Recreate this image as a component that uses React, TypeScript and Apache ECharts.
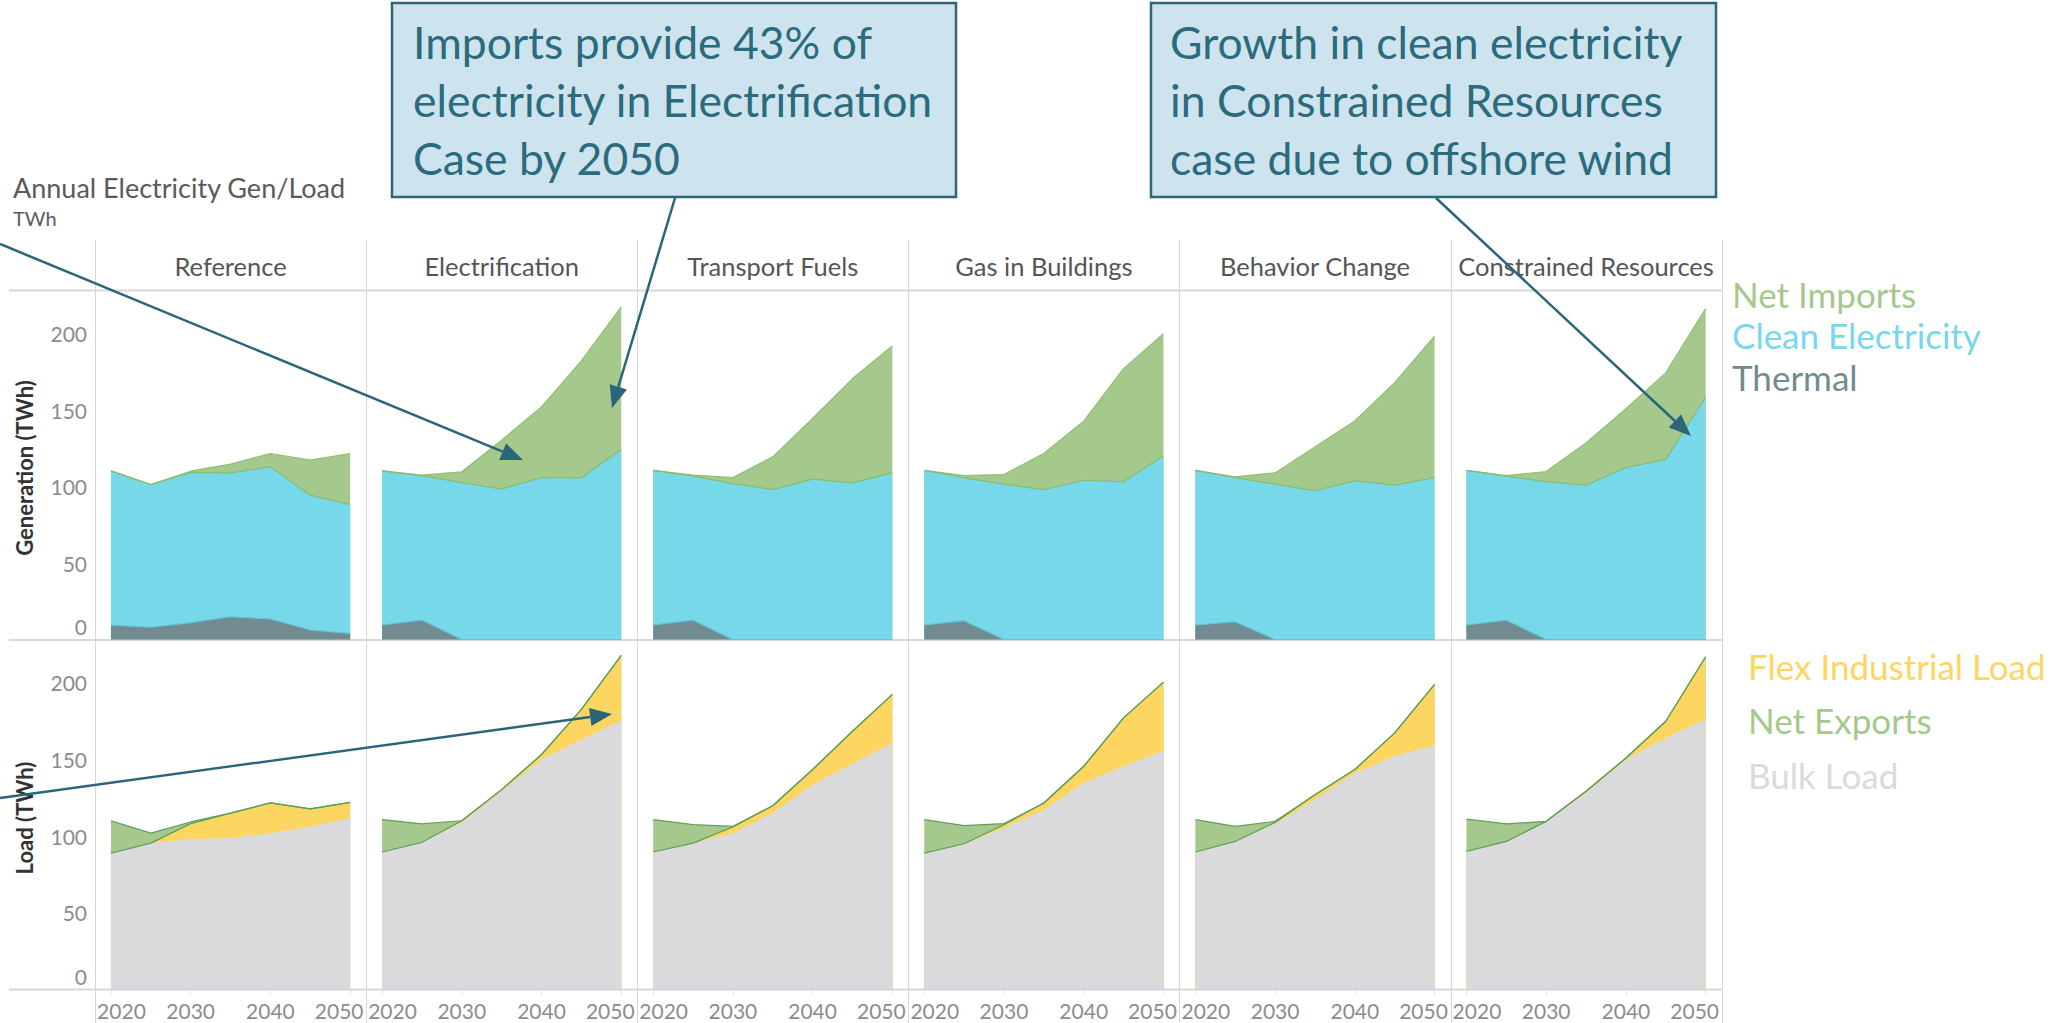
import React, { useEffect, useRef } from 'react';
import * as echarts from 'echarts';

// ---------- data ----------
const YEARS = [2020, 2025, 2030, 2035, 2040, 2045, 2050];
const X_TICKS = [2020, 2030, 2040, 2050];
const Y_TICKS = [0, 50, 100, 150, 200];
const CASES = ['Reference', 'Electrification', 'Transport Fuels', 'Gas in Buildings', 'Behavior Change', 'Constrained Resources'];

// Generation (TWh), one row per case, one value per year
const thermal = [
  [9.4, 8.0, 11.0, 14.9, 13.4, 6.2, 4.0],
  [9.5, 12.7, 0, 0, 0, 0, 0],
  [9.5, 12.7, 0, 0, 0, 0, 0],
  [9.5, 12.3, 0, 0, 0, 0, 0],
  [9.5, 11.6, 0, 0, 0, 0, 0],
  [9.5, 12.7, 0, 0, 0, 0, 0],
];
const cleanElectricity = [
  [100.9, 93.4, 98.3, 94.1, 99.6, 88.2, 84.3],
  [100.8, 94.3, 102.7, 98.4, 106.0, 105.8, 124.5],
  [101.1, 94.2, 102.0, 98.1, 104.9, 102.5, 109.0],
  [101.1, 93.5, 101.6, 98.1, 104.2, 103.2, 120.2],
  [101.1, 94.2, 101.7, 97.3, 103.8, 101.0, 106.0],
  [101.1, 94.2, 103.2, 101.0, 112.5, 117.8, 158.7],
];
const netImports = [
  [0, 0, 0.8, 5.7, 8.7, 22.9, 33.4],
  [0, 0.5, 7.0, 32.0, 46.2, 76.5, 93.1],
  [0, 0.6, 4.0, 21.4, 39.7, 68.2, 83.0],
  [0, 1.5, 6.3, 23.6, 38.6, 74.0, 79.9],
  [0, 0.6, 7.3, 28.7, 39.2, 67.0, 92.4],
  [0, 0.4, 6.7, 27.6, 38.5, 56.6, 57.8],
];
// Load (TWh)
const bulkLoad = [
  [89.0, 95.5, 98.1, 98.8, 102.0, 106.4, 111.9],
  [89.7, 96.0, 109.0, 129.3, 150.0, 163.0, 175.5],
  [89.7, 95.5, 102.0, 115.1, 133.6, 147.3, 160.9],
  [89.0, 95.1, 105.3, 117.3, 134.7, 145.6, 155.9],
  [89.7, 96.6, 108.2, 123.9, 141.3, 152.3, 159.2],
  [90.1, 96.6, 109.7, 128.2, 150.0, 164.2, 176.3],
];
const flexIndustrialLoad = [
  [0, 0, 10.1, 16.3, 19.7, 11.4, 10.2],
  [0, 0, 1.1, 1.1, 3.3, 19.7, 42.5],
  [0, 0, 4.0, 4.8, 9.9, 21.2, 31.6],
  [0, 0, 2.2, 4.4, 10.9, 31.6, 44.6],
  [0, 0, 0.8, 3.1, 2.2, 15.1, 39.8],
  [0, 0, 0, 1.1, 1.0, 10.8, 40.8],
];
const netExports = [
  [21.1, 6.5, 1.1, 0, 0, 0, 0],
  [21.1, 12.0, 0, 0, 0, 0, 0],
  [21.1, 12.0, 0.4, 0, 0, 0, 0],
  [21.8, 11.8, 0.7, 0, 0, 0, 0],
  [21.1, 9.8, 0.7, 0, 0, 0, 0],
  [21.0, 11.4, 0, 0, 0, 0, 0],
];

const TITLE = 'Annual Electricity Gen/Load';
const SUBTITLE = 'TWh';
const GEN_AXIS_NAME = 'Generation (TWh)';
const LOAD_AXIS_NAME = 'Load (TWh)';
const NOTE_1 = ['Imports provide 43% of', 'electricity in Electrification', 'Case by 2050'];
const NOTE_2 = ['Growth in clean electricity', 'in Constrained Resources', 'case due to offshore wind'];

// ---------- styles / layout ----------
const FONT = 'Lato, sans-serif';
const C_THERMAL = '#718b91';
const C_CLEAN = '#77d8ea';
const C_GREEN = '#a5c98c';
const C_BULK = '#dadadc';
const C_FLEX = '#fdd662';
const C_ARROW = '#2a657a';
const C_GRID = '#d8d8d8';
const C_TICK = '#8c8c8c';

const W = 2066;
const H = 1023;
const PANEL_LEFT = 95;
const PANEL_W = 271.1;
const GEN_TOP = 291;
const GEN_H = 348.5;
const LOAD_TOP = 640;
const LOAD_H = 349.5;
const X_MIN = 2018;
const X_MAX = 2052;
const Y_MAX = 228;

// running totals of stacked layers (bottom layer first)
function cumulative(layers: number[][]): number[][] {
  const out: number[][] = [];
  layers.forEach((layer, li) => {
    out.push(layer.map((v, k) => v + (li > 0 ? out[li - 1][k] : 0)));
  });
  return out;
}

function arrow(x1: number, y1: number, x2: number, y2: number) {
  const dx = x2 - x1;
  const dy = y2 - y1;
  const len = Math.hypot(dx, dy);
  const ux = dx / len;
  const uy = dy / len;
  const L = 22;
  const hw = 9;
  const bx = x2 - ux * L;
  const by = y2 - uy * L;
  return [
    { type: 'line', z: 100, shape: { x1, y1, x2: bx, y2: by }, style: { stroke: C_ARROW, lineWidth: 2.5 } },
    {
      type: 'polygon', z: 100,
      shape: { points: [[x2, y2], [bx - uy * hw, by + ux * hw], [bx + uy * hw, by - ux * hw]] },
      style: { fill: C_ARROW },
    },
  ];
}

function txt(x: number, y: number, text: string, size: number, fill: string, extra: any = {}) {
  return {
    type: 'text', z: 10, x, y,
    style: { text, fill, fontSize: size, fontFamily: FONT, verticalAlign: 'middle', ...extra },
  };
}

function buildOption() {
  const grids: any[] = [];
  const xAxes: any[] = [];
  const yAxes: any[] = [];
  const series: any[] = [];

  const tickBase = { color: C_TICK, fontSize: 21, fontFamily: FONT };

  for (let row = 0; row < 2; row++) {
    for (let i = 0; i < CASES.length; i++) {
      const idx = row * CASES.length + i;
      grids.push({
        left: PANEL_LEFT + i * PANEL_W,
        width: PANEL_W,
        top: row === 0 ? GEN_TOP : LOAD_TOP,
        height: row === 0 ? GEN_H : LOAD_H,
        containLabel: false,
      });
      const showX = row === 1;
      xAxes.push({
        type: 'value', gridIndex: idx, min: X_MIN, max: X_MAX,
        axisLine: { show: false },
        splitLine: { show: false },
        axisTick: { show: showX, customValues: X_TICKS, length: 5, lineStyle: { color: '#e6e6e6' } },
        axisLabel: {
          show: showX,
          customValues: X_TICKS,
          margin: 10,
          formatter: (v: number) => (v === X_TICKS[0] ? `{l|${v}}` : v === X_TICKS[X_TICKS.length - 1] ? `{r|${v}}` : `{c|${v}}`),
          rich: {
            l: { ...tickBase, padding: [0, 0, 0, 21] },
            r: { ...tickBase, padding: [0, 22, 0, 0] },
            c: { ...tickBase },
          },
        },
      });
      const showY = i === 0;
      yAxes.push({
        type: 'value', gridIndex: idx, min: 0, max: Y_MAX,
        axisLine: { show: false },
        axisTick: { show: false },
        splitLine: { show: false },
        axisLabel: {
          show: showY,
          customValues: Y_TICKS,
          margin: 8,
          formatter: (v: number) => (v === 0 ? `{z|${v}}` : `{n|${v}}`),
          rich: {
            z: { ...tickBase, padding: [0, 0, 27, 0] },
            n: { ...tickBase },
          },
        },
      });

      const mk = (name: string, tops: number[], fill: string, line: string, lw: number) => ({
        type: 'line',
        name,
        xAxisIndex: idx,
        yAxisIndex: idx,
        data: YEARS.map((y, k) => [y, tops[k]]),
        symbol: 'none',
        showSymbol: false,
        silent: true,
        itemStyle: { color: fill },
        lineStyle: { color: line, width: lw },
        areaStyle: { color: fill, opacity: 1, origin: 'start' },
      });

      if (row === 0) {
        const [t1, t2, t3] = cumulative([thermal[i], cleanElectricity[i], netImports[i]]);
        series.push(mk('Net Imports', t3, C_GREEN, '#8dbf72', 1.2));
        series.push(mk('Clean Electricity', t2, C_CLEAN, '#86bd6c', 1.2));
        series.push(mk('Thermal', t1, C_THERMAL, '#5cc6dc', 1.2));
      } else {
        const [b1, b2, b3] = cumulative([bulkLoad[i], flexIndustrialLoad[i], netExports[i]]);
        series.push(mk('Net Exports', b3, C_GREEN, '#5f9f55', 1.2));
        series.push(mk('Flex Industrial Load', b2, C_FLEX, '#5f9f55', 1.2));
        series.push(mk('Bulk Load', b1, C_BULK, C_BULK, 0));
      }
    }
  }

  const graphic: any[] = [];
  const right = PANEL_LEFT + CASES.length * PANEL_W;
  // frame lines
  for (let i = 0; i <= CASES.length; i++) {
    const x = Math.round(PANEL_LEFT + i * PANEL_W) + 0.5;
    graphic.push({ type: 'line', z: 1, shape: { x1: x, y1: 240, x2: x, y2: H }, style: { stroke: C_GRID, lineWidth: 1 } });
  }
  [GEN_TOP - 0.5, LOAD_TOP, LOAD_TOP + LOAD_H].forEach((y) => {
    graphic.push({ type: 'line', z: 1, shape: { x1: 9, y1: y, x2: right, y2: y }, style: { stroke: C_GRID, lineWidth: 2 } });
  });
  // panel headers
  CASES.forEach((c, i) => {
    graphic.push(txt(PANEL_LEFT + (i + 0.5) * PANEL_W, 266, c, 25.5, '#555555', { align: 'center' }));
  });
  // title
  graphic.push(txt(13, 187, TITLE, 27, '#5a5a5a'));
  graphic.push(txt(13, 218, SUBTITLE, 20, '#5a5a5a'));
  // axis titles (rotated)
  [[GEN_AXIS_NAME, 468], [LOAD_AXIS_NAME, 818]].forEach(([name, cy]) => {
    graphic.push({
      type: 'text', z: 10, x: 24, y: cy as number, rotation: Math.PI / 2,
      style: { text: name, fill: '#333333', fontSize: 22, fontWeight: 'bold', fontFamily: 'Lato', align: 'center', verticalAlign: 'middle' },
    });
  });

  // annotation boxes
  const note = (x: number, w: number, tx: number, lines: string[]) => [
    { type: 'rect', z: 90, shape: { x, y: 3, width: w, height: 194 }, style: { fill: '#cde4ee', stroke: '#2e6678', lineWidth: 2.5 } },
    {
      type: 'text', z: 91, x: tx, y: 12,
      style: { text: lines.join('\n'), fill: '#2b6b7d', fontSize: 44.5, fontFamily: FONT, lineHeight: 58, verticalAlign: 'top', align: 'left' },
    },
  ];
  graphic.push(...note(392, 564, 413, NOTE_1));
  graphic.push(...note(1151, 565, 1170, NOTE_2));

  // arrows
  graphic.push(...arrow(0, 244, 523, 460));
  graphic.push(...arrow(675, 198, 612, 408));
  graphic.push(...arrow(1436, 198, 1691, 436));
  graphic.push(...arrow(0, 798, 612, 714));

  const legendBase = {
    orient: 'vertical', icon: 'none', itemWidth: 0, itemHeight: 30, padding: 0,
    selectedMode: false,
    textStyle: { fontFamily: FONT, fontSize: 35, lineHeight: 30 },
  };

  return {
    animation: false,
    backgroundColor: '#ffffff',
    grid: grids,
    xAxis: xAxes,
    yAxis: yAxes,
    series,
    graphic,
    legend: [
      {
        ...legendBase, left: 1727, top: 276, itemGap: 6.5,
        data: [
          { name: 'Net Imports', textStyle: { color: C_GREEN } },
          { name: 'Clean Electricity', textStyle: { color: C_CLEAN } },
          { name: 'Thermal', textStyle: { color: C_THERMAL } },
        ],
      },
      {
        ...legendBase, left: 1743, top: 648, itemGap: 19.5,
        data: [
          { name: 'Flex Industrial Load', textStyle: { color: C_FLEX } },
          { name: 'Net Exports', textStyle: { color: C_GREEN } },
          { name: 'Bulk Load', textStyle: { color: C_BULK } },
        ],
      },
    ],
  };
}

export default function App() {
  const ref = useRef<HTMLDivElement>(null);
  useEffect(() => {
    if (!ref.current) return;
    const chart = echarts.init(ref.current, null, { renderer: 'svg', width: W, height: H });
    chart.setOption(buildOption() as any);
    return () => chart.dispose();
  }, []);
  return <div ref={ref} style={{ position: 'fixed', left: 0, top: 0, width: W, height: H, background: '#fff' }} />;
}
